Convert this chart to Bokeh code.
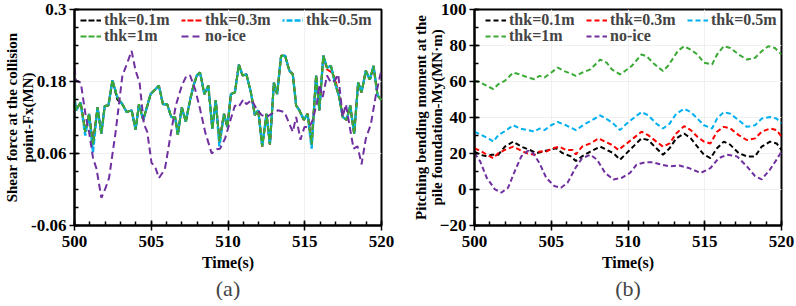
from bokeh.plotting import figure
from bokeh.layouts import row
from bokeh.models import FixedTicker, Range1d, Legend, LegendItem, Title
from bokeh.embed import file_html
from bokeh.resources import INLINE
import numpy as np

# ---------------- data: (a) shear force at the collision point ----------------
t_thk_a = [500.0, 500.1, 500.4, 500.7, 500.95, 501.2, 501.5, 501.75, 501.97, 502.21,
           502.47, 502.79, 503.12, 503.4, 503.72, 503.98, 504.2, 504.48, 504.96, 505.5,
           505.76, 506.04, 506.3, 506.56, 506.73, 506.99, 507.25, 507.53, 507.75, 507.97,
           508.18, 508.46, 508.72, 508.98, 509.2, 509.44, 509.74, 509.96, 510.19, 510.45,
           510.71, 510.95, 511.2, 511.49, 511.75, 511.97, 512.23, 512.51, 512.73, 512.99,
           513.2, 513.46, 513.72, 514.0, 514.22, 514.44, 514.65, 514.94, 515.19, 515.45,
           515.74, 515.95, 516.21, 516.45, 516.71, 516.97, 517.25, 517.47, 517.73, 517.96,
           518.22, 518.48, 518.7, 518.98, 519.24, 519.48, 519.74, 520.0]
thk1_a = [0.154, 0.132, 0.145, 0.096, 0.126, 0.075, 0.137, 0.093, 0.139, 0.14,
          0.182, 0.154, 0.142, 0.129, 0.132, 0.1, 0.142, 0.116, 0.159, 0.173,
          0.142, 0.142, 0.121, 0.12, 0.091, 0.137, 0.113, 0.149, 0.173, 0.19,
          0.195, 0.159, 0.173, 0.101, 0.149, 0.08, 0.126, 0.104, 0.159, 0.162,
          0.208, 0.19, 0.192, 0.162, 0.124, 0.132, 0.072, 0.126, 0.075, 0.178,
          0.159, 0.223, 0.223, 0.198, 0.192, 0.14, 0.132, 0.116, 0.126, 0.075,
          0.19, 0.132, 0.223, 0.203, 0.206, 0.178, 0.154, 0.121, 0.116, 0.14,
          0.093, 0.178, 0.162, 0.198, 0.183, 0.206, 0.157, 0.149]
thk05_a = [0.154, 0.132, 0.145, 0.09, 0.126, 0.062, 0.137, 0.093, 0.139, 0.14,
           0.182, 0.154, 0.142, 0.129, 0.132, 0.1, 0.142, 0.116, 0.159, 0.173,
           0.142, 0.142, 0.121, 0.12, 0.091, 0.137, 0.113, 0.149, 0.173, 0.19,
           0.195, 0.159, 0.173, 0.101, 0.149, 0.072, 0.126, 0.104, 0.159, 0.162,
           0.208, 0.19, 0.192, 0.162, 0.124, 0.132, 0.072, 0.126, 0.075, 0.178,
           0.159, 0.223, 0.223, 0.198, 0.192, 0.14, 0.132, 0.116, 0.126, 0.068,
           0.19, 0.132, 0.223, 0.203, 0.206, 0.178, 0.154, 0.121, 0.116, 0.14,
           0.093, 0.178, 0.162, 0.198, 0.183, 0.206, 0.157, 0.149]
thk03_a = [0.154, 0.132, 0.145, 0.096, 0.126, 0.075, 0.137, 0.093, 0.139, 0.14,
           0.182, 0.154, 0.142, 0.129, 0.132, 0.1, 0.142, 0.116, 0.159, 0.173,
           0.142, 0.142, 0.121, 0.12, 0.091, 0.137, 0.113, 0.149, 0.173, 0.19,
           0.195, 0.159, 0.173, 0.101, 0.149, 0.08, 0.126, 0.104, 0.159, 0.162,
           0.208, 0.19, 0.192, 0.162, 0.124, 0.132, 0.072, 0.126, 0.075, 0.178,
           0.159, 0.223, 0.223, 0.198, 0.192, 0.14, 0.132, 0.116, 0.126, 0.075,
           0.19, 0.132, 0.223, 0.2, 0.196, 0.186, 0.154, 0.121, 0.116, 0.14,
           0.093, 0.178, 0.162, 0.198, 0.183, 0.206, 0.157, 0.149]
thk01_a = [0.154, 0.132, 0.145, 0.096, 0.126, 0.075, 0.137, 0.093, 0.139, 0.14,
           0.182, 0.15, 0.142, 0.129, 0.132, 0.1, 0.142, 0.116, 0.159, 0.173,
           0.142, 0.142, 0.121, 0.12, 0.091, 0.137, 0.113, 0.149, 0.173, 0.19,
           0.195, 0.159, 0.173, 0.101, 0.149, 0.08, 0.126, 0.104, 0.159, 0.162,
           0.208, 0.19, 0.192, 0.162, 0.124, 0.132, 0.072, 0.126, 0.075, 0.178,
           0.159, 0.223, 0.223, 0.198, 0.192, 0.14, 0.132, 0.116, 0.126, 0.075,
           0.19, 0.132, 0.223, 0.203, 0.206, 0.178, 0.154, 0.121, 0.116, 0.14,
           0.093, 0.178, 0.162, 0.198, 0.183, 0.206, 0.157, 0.149]
t_noice_a = [500.0, 500.09, 500.41, 500.74, 500.95, 501.21, 501.43, 501.75, 502.03, 502.25,
             502.68, 503.12, 503.44, 503.72, 503.98, 504.24, 504.52, 504.74, 505.02, 505.24,
             505.5, 505.89, 506.26, 506.6, 506.99, 507.3, 507.53, 507.86, 508.18, 508.51,
             508.94, 509.27, 509.48, 509.81, 510.13, 510.45, 510.67, 511.0, 511.2, 511.54,
             511.87, 512.19, 512.51, 512.84, 513.25, 513.68, 514.22, 514.44, 514.72, 514.98,
             515.3, 515.52, 515.8, 515.95, 516.17, 516.45, 516.71, 516.97, 517.18, 517.47,
             517.68, 517.9, 518.18, 518.44, 518.7, 518.98, 519.31, 519.63, 520.0]
noice_a = [0.203, 0.182, 0.178, 0.121, 0.096, 0.052, 0.035, -0.014, 0.003, 0.019,
           0.096, 0.19, 0.211, 0.231, 0.198, 0.178, 0.109, 0.096, 0.044, 0.039,
           0.019, 0.034, 0.091, 0.14, 0.173, 0.19, 0.19, 0.167, 0.134, 0.096,
           0.06, 0.067, 0.068, 0.085, 0.113, 0.14, 0.137, 0.15, 0.142, 0.149,
           0.134, 0.124, 0.121, 0.126, 0.132, 0.129, 0.096, 0.121, 0.083, 0.104,
           0.104, 0.116, 0.145, 0.175, 0.154, 0.19, 0.178, 0.182, 0.192, 0.121,
           0.142, 0.109, 0.068, 0.072, 0.042, 0.085, 0.109, 0.157, 0.2]

# ---------------- data: (b) pitching bending moment ----------------
t_thk1_b = [500.0, 500.37, 500.8, 501.23, 501.55, 501.98, 502.52, 502.95, 503.48, 503.91,
            504.23, 504.56, 504.99, 505.42, 505.85, 506.39, 506.6, 507.01, 507.55, 508.19,
            508.62, 508.95, 509.48, 509.8, 510.24, 510.88, 511.2, 511.74, 512.28, 512.6,
            513.03, 513.25, 513.66, 514.09, 514.52, 514.95, 515.48, 515.8, 516.24, 516.67,
            517.21, 517.74, 518.28, 518.71, 519.14, 519.57, 520.0]
thk1_b = [60.4, 59.5, 57.6, 55.8, 58.5, 60.4, 64.9, 64.0, 62.2, 61.3,
          63.1, 62.2, 64.9, 67.7, 65.8, 64.0, 63.1, 64.9, 66.7, 72.2,
          70.4, 66.7, 64.0, 65.8, 68.6, 75.0, 74.1, 69.5, 65.8, 68.6,
          74.1, 77.0, 79.6, 77.7, 75.0, 70.4, 69.5, 75.0, 79.6, 78.6,
          75.0, 72.2, 73.2, 76.8, 79.6, 78.6, 75.0]
t_thk05_b = [500.0, 500.47, 500.9, 501.23, 501.55, 502.09, 502.52, 502.95, 503.48, 503.91,
             504.23, 504.56, 504.99, 505.42, 505.96, 506.39, 506.6, 507.23, 507.66, 508.19,
             508.73, 509.05, 509.48, 509.91, 510.45, 510.88, 511.31, 511.85, 512.28, 512.71,
             513.14, 513.66, 514.09, 514.52, 514.95, 515.48, 515.8, 516.24, 516.67, 517.21,
             517.74, 518.28, 518.71, 519.25, 519.68, 520.0]
thk05_b = [32.1, 30.2, 28.4, 26.6, 30.2, 33.0, 35.7, 33.9, 33.0, 32.1,
           33.9, 33.0, 35.7, 37.5, 35.7, 33.9, 33.0, 36.6, 38.5, 41.2,
           38.5, 36.6, 33.0, 36.6, 40.3, 43.0, 41.2, 36.6, 33.9, 36.6,
           42.1, 44.8, 43.0, 39.4, 35.7, 33.9, 39.4, 43.0, 42.1, 38.5,
           34.8, 35.7, 39.4, 40.3, 39.4, 36.6]
t_thk03_b = [500.0, 500.47, 500.8, 501.23, 501.55, 501.98, 502.52, 502.95, 503.38, 503.91,
             504.23, 504.67, 505.1, 505.53, 505.96, 506.39, 506.6, 507.01, 507.55, 508.08,
             508.51, 508.95, 509.38, 509.8, 510.34, 510.88, 511.31, 511.85, 512.28, 512.71,
             513.14, 513.66, 514.09, 514.52, 514.95, 515.37, 515.8, 516.24, 516.67, 517.21,
             517.74, 518.28, 518.71, 519.25, 519.68, 520.0]
thk03_b = [22.9, 21.1, 19.3, 17.4, 20.2, 22.0, 23.8, 22.0, 20.2, 19.3,
           21.1, 21.1, 22.9, 23.8, 22.0, 22.0, 19.5, 23.8, 25.6, 28.4,
           26.6, 24.8, 22.0, 24.8, 28.4, 32.1, 30.2, 26.6, 23.8, 25.6,
           31.1, 35.2, 33.0, 29.3, 26.6, 25.6, 32.1, 34.8, 33.9, 30.2,
           27.5, 28.4, 32.1, 33.9, 33.0, 29.3]
t_thk01_b = [500.0, 500.37, 500.8, 501.12, 501.55, 501.98, 502.52, 503.05, 503.59, 504.02,
             504.45, 504.88, 505.31, 505.74, 506.28, 506.6, 507.01, 507.55, 508.19, 508.62,
             509.05, 509.48, 509.91, 510.45, 510.88, 511.31, 511.85, 512.28, 512.71, 513.14,
             513.66, 514.09, 514.52, 514.95, 515.37, 515.8, 516.24, 516.67, 517.21, 517.74,
             518.28, 518.71, 519.25, 519.68, 520.0]
thk01_b = [21.1, 19.3, 18.4, 19.3, 19.3, 23.8, 26.6, 23.8, 22.0, 20.2,
           21.1, 22.0, 22.9, 20.2, 18.4, 15.8, 18.4, 21.1, 23.8, 22.0,
           20.2, 16.6, 20.2, 24.8, 28.4, 27.5, 22.9, 19.3, 22.9, 28.4,
           31.1, 28.4, 23.8, 19.3, 17.4, 22.9, 26.6, 24.8, 20.2, 18.4,
           18.4, 23.8, 26.6, 25.6, 22.0]
t_noice_b = [500.0, 500.37, 500.8, 501.33, 501.76, 502.19, 502.62, 503.05, 503.48, 503.81,
             504.23, 504.67, 505.2, 505.63, 506.06, 506.58, 507.01, 507.55, 507.98, 508.51,
             509.05, 509.59, 510.13, 510.56, 511.1, 511.64, 512.17, 512.71, 513.35, 513.98,
             514.73, 515.37, 515.91, 516.45, 517.1, 517.74, 518.28, 518.71, 519.25, 519.68,
             520.0]
noice_b = [20.2, 15.6, 6.5, 0.1, -1.7, 1.0, 10.1, 18.4, 21.5, 20.2,
           14.7, 6.5, 1.9, 1.0, 3.7, 12.0, 17.4, 19.3, 16.6, 9.2,
           5.6, 6.5, 9.2, 13.8, 15.1, 15.1, 13.8, 12.9, 13.3, 11.9,
           9.2, 11.9, 17.4, 19.3, 18.4, 12.9, 7.4, 5.6, 11.1, 16.6,
           21.1]

# ---------------- axes / labels ----------------
x_ticks = [500, 505, 510, 515, 520]
ya_ticks = [-0.06, 0.06, 0.18, 0.3]
ya_labels = ["-0.06", "0.06", "0.18", "0.3"]
yb_ticks = [-20, 0, 20, 40, 60, 80, 100]
legend_names = ["thk=0.1m", "thk=0.3m", "thk=0.5m", "thk=1m", "no-ice"]
colors = ["#000000", "#ff0000", "#00b0f0", "#3aaa35", "#7030a0"]

FONT = "Liberation Serif"
FRAME_H = 216


def make_fig(fw, left, right, ylo, yhi, yticks, yminor, ylabel, caption, labels=None):
    p = figure(frame_width=fw, frame_height=FRAME_H, output_backend="svg", toolbar_location=None,
               x_range=Range1d(500, 520), y_range=Range1d(ylo, yhi),
               min_border_left=left, min_border_right=right, min_border_top=9,
               min_border_bottom=0)
    p.background_fill_color = "white"
    p.border_fill_color = "white"
    p.outline_line_color = "black"
    p.outline_line_width = 2
    p.xaxis.ticker = FixedTicker(ticks=x_ticks, minor_ticks=list(np.arange(500, 521, 1)))
    p.yaxis.ticker = FixedTicker(ticks=yticks, minor_ticks=yminor)
    if labels is not None:
        p.yaxis.major_label_overrides = {t: l for t, l in zip(yticks, labels)}
    for ax in (p.xaxis[0], p.yaxis[0]):
        ax.axis_line_width = 2
        ax.major_tick_in = 5
        ax.major_tick_out = 5
        ax.minor_tick_in = 4
        ax.minor_tick_out = 0
        ax.major_tick_line_width = 1.5
        ax.minor_tick_line_width = 1.5
        ax.major_label_text_font = FONT
        ax.major_label_text_font_style = "bold"
        ax.major_label_text_font_size = "17px"
        ax.major_label_text_color = "black"
        ax.axis_label_text_font = FONT
        ax.axis_label_text_font_style = "bold"
        ax.axis_label_text_color = "black"
    p.xaxis.axis_label = "Time(s)"
    p.xaxis.axis_label_text_font_size = "16px"
    p.xaxis.axis_label_standoff = 4
    p.xaxis.major_label_standoff = 5
    p.yaxis.axis_label = ylabel
    p.yaxis.axis_label_text_font_size = "15px"
    p.yaxis.axis_label_text_line_height = 1.0
    p.yaxis.axis_label_standoff = -8
    p.yaxis.major_label_standoff = 3
    p.xgrid.grid_line_color = "#f0f0f0"
    p.ygrid.grid_line_color = "#f0f0f0"
    p.add_layout(Title(text=caption, align="center", text_font=FONT,
                       text_font_style="normal", text_font_size="22px",
                       standoff=0), "below")
    return p


def style_legend(lg):
    lg.background_fill_alpha = 0
    lg.border_line_alpha = 0
    lg.label_text_font = FONT
    lg.label_text_font_style = "bold"
    lg.label_text_font_size = "16px"
    lg.glyph_width = 21
    lg.glyph_height = 16
    lg.label_standoff = 3
    lg.label_height = 16
    lg.label_width = 74
    lg.spacing = 3
    lg.padding = 0
    lg.margin = 0


def add_legend(p, renderers, x_off):
    items = [LegendItem(label=n, renderers=[r]) for n, r in zip(legend_names, renderers)]
    top = Legend(items=items[:3], location=(x_off, FRAME_H - 20), orientation="horizontal")
    bottom = Legend(items=items[3:], location=(x_off, FRAME_H - 36), orientation="horizontal")
    for lg in (top, bottom):
        style_legend(lg)
        p.add_layout(lg)


# ---------------- figure (a) ----------------
pa = make_fig(307, 74, 15, -0.06, 0.3, ya_ticks, list(np.round(np.arange(-0.06, 0.301, 0.03), 3)),
              "Shear force at the collision\npoint-Fx(MN)", "(a)", ya_labels)
ra = []
ra.append(pa.line(t_thk_a, thk01_a, line_color=colors[0], line_width=2, line_dash="6 2"))
ra.append(pa.line(t_thk_a, thk03_a, line_color=colors[1], line_width=2, line_dash="6 2", line_dash_offset=2))
ra.append(pa.line(t_thk_a, thk05_a, line_color=colors[2], line_width=2.4, line_dash="6 2", line_dash_offset=4))
ra.append(pa.line(t_thk_a, thk1_a, line_color=colors[3], line_width=2, line_dash="6 2"))
ra.append(pa.line(t_noice_a, noice_a, line_color=colors[4], line_width=2, line_dash="7 4"))
add_legend(pa, ra, 6)

# ---------------- figure (b) ----------------
pb = make_fig(307, 78, 14, -20, 100, yb_ticks, list(range(-20, 101, 10)),
              "Pitching bending moment at the\npile foundation-My(MN\u00b7m)", "(b)")
rb = []
rb.append(pb.line(t_thk01_b, thk01_b, line_color=colors[0], line_width=2, line_dash="5 3"))
rb.append(pb.line(t_thk03_b, thk03_b, line_color=colors[1], line_width=2, line_dash="5 3"))
rb.append(pb.line(t_thk05_b, thk05_b, line_color=colors[2], line_width=2, line_dash="5 3"))
rb.append(pb.line(t_thk1_b, thk1_b, line_color=colors[3], line_width=2, line_dash="5 3"))
rb.append(pb.line(t_noice_b, noice_b, line_color=colors[4], line_width=2, line_dash="5 3"))
add_legend(pb, rb, 11)

layout = row(pa, pb)
open("out.html", "w").write(file_html(layout, INLINE))
